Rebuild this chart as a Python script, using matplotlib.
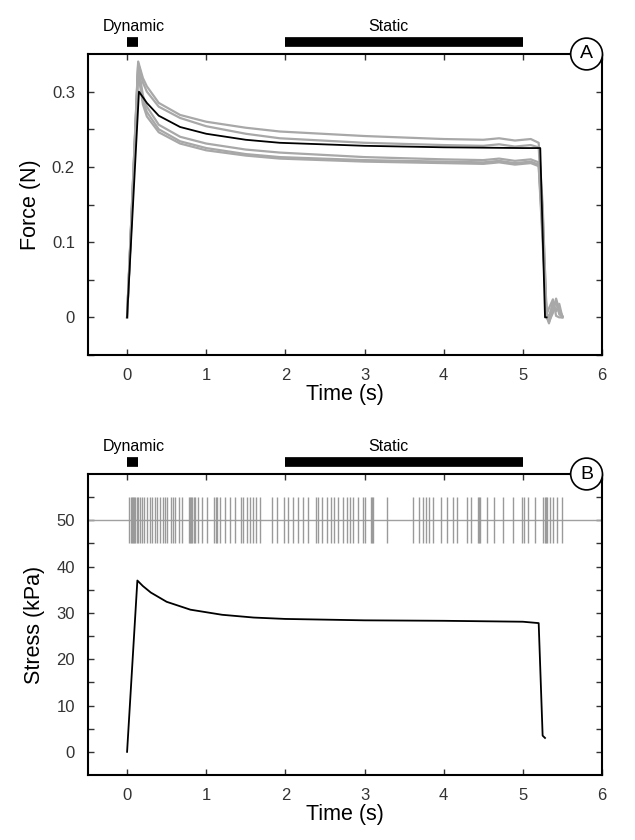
import numpy as np
import matplotlib
matplotlib.use('Agg')
import matplotlib.pyplot as plt
from matplotlib.ticker import FixedLocator

plt.rcParams['font.family'] = ['Liberation Sans', 'DejaVu Sans']

# --- force traces (panel A) ---
t_force = [0, 0.14, 0.2, 0.25, 0.4, 0.67, 1.0, 1.5, 1.93, 3.0, 4.0, 4.5, 4.7, 4.9, 5.1, 5.2, 5.25, 5.3, 5.33, 5.38, 5.42, 5.46, 5.5]
gray_traces = [
    [0, 0.340, 0.318, 0.307, 0.285, 0.269, 0.260, 0.252, 0.247, 0.241, 0.237, 0.236, 0.238, 0.235, 0.237, 0.232, 0.15, 0.002, -0.008, 0.012, 0.022, 0.004, 0.001],
    [0, 0.338, 0.312, 0.300, 0.280, 0.265, 0.254, 0.244, 0.238, 0.232, 0.229, 0.228, 0.230, 0.227, 0.229, 0.226, 0.14, 0.006, 0.0, 0.02, 0.008, 0.018, 0.0],
    [0, 0.335, 0.295, 0.280, 0.256, 0.240, 0.231, 0.223, 0.219, 0.213, 0.210, 0.209, 0.211, 0.208, 0.210, 0.206, 0.12, 0.0, -0.006, 0.006, 0.025, 0.01, 0.002],
    [0, 0.330, 0.288, 0.273, 0.250, 0.234, 0.225, 0.217, 0.213, 0.209, 0.207, 0.206, 0.208, 0.205, 0.207, 0.203, 0.11, 0.004, 0.012, 0.024, 0.002, 0.0, 0.0],
    [0, 0.325, 0.283, 0.267, 0.246, 0.231, 0.222, 0.215, 0.211, 0.207, 0.205, 0.204, 0.206, 0.203, 0.205, 0.201, 0.10, 0.002, 0.0, 0.016, 0.02, 0.006, 0.001],
]
t_mean = [0, 0.15, 0.25, 0.4, 0.67, 1.0, 1.5, 1.93, 3.0, 4.0, 5.0, 5.22, 5.28, 5.3]
force_mean = [0, 0.300, 0.285, 0.268, 0.253, 0.244, 0.236, 0.232, 0.228, 0.226, 0.225, 0.225, 0.0, 0.0]

# --- stress (panel B) ---
t_stress = [0, 0.13, 0.2, 0.3, 0.5, 0.8, 1.2, 1.6, 2.0, 3.0, 4.0, 5.0, 5.2, 5.25, 5.28]
stress = [0, 37.0, 35.8, 34.4, 32.4, 30.7, 29.6, 29.0, 28.7, 28.4, 28.3, 28.1, 27.8, 3.5, 3.0]

# spike times (s)
spikes = [0.03, 0.045, 0.06, 0.075, 0.09, 0.105, 0.12, 0.135, 0.16, 0.19, 0.22, 0.25, 0.29, 0.32, 0.35, 0.38,
          0.42, 0.45, 0.48, 0.51, 0.55, 0.58, 0.61, 0.65, 0.70, 0.78, 0.795, 0.81, 0.825, 0.84, 0.86, 0.89,
          0.95, 1.01, 1.10, 1.12, 1.14, 1.17, 1.24, 1.30, 1.36, 1.44, 1.46, 1.52, 1.55, 1.59, 1.63,
          1.68, 1.83, 1.89, 1.98, 2.03, 2.10, 2.16, 2.22, 2.29, 2.39, 2.41, 2.46, 2.52, 2.57, 2.62,
          2.67, 2.73, 2.78, 2.82, 2.86, 2.92, 2.98, 3.01, 3.08, 3.095, 3.11, 3.28, 3.61, 3.69, 3.74, 3.78,
          3.81, 3.87, 3.97, 4.04, 4.12, 4.17, 4.29, 4.34, 4.43, 4.445, 4.46, 4.55, 4.63, 4.75, 4.87, 4.99,
          5.02, 5.07, 5.15, 5.26, 5.275, 5.29, 5.30, 5.34, 5.38, 5.43, 5.49]

dyn_phase = (0.0, 0.14)
stat_phase = (2.0, 5.0)
xticks = [0, 1, 2, 3, 4, 5, 6]
force_ticks = [0, 0.1, 0.2, 0.3]
force_minor = [-0.05, 0.05, 0.15, 0.25]
stress_ticks = [0, 10, 20, 30, 40, 50]
stress_minor = [5, 15, 25, 35, 45, 55]

W, H = 635, 840
fig = plt.figure(figsize=(W / 100, H / 100), dpi=100)
ax1 = fig.add_axes([87.5 / W, 1 - 355 / H, 514.5 / W, 301 / H])
ax2 = fig.add_axes([87.5 / W, 1 - 775 / H, 514.5 / W, 301 / H])

gray = '#a8a8a8'
for tr in gray_traces:
    ax1.plot(t_force, tr, color=gray, lw=1.6)
ax1.plot(t_mean, force_mean, color='black', lw=1.3)

ax2.axhline(50, color='#a0a0a0', lw=1.0)
ax2.vlines(spikes, 45, 55, color='#9a9a9a', lw=1.0)
ax2.plot(t_stress, stress, color='black', lw=1.3)


def style(ax, ylim, major, minor, labels, ylabel, letter):
    ax.set_xlim(-0.5, 6)
    ax.set_ylim(*ylim)
    ax.set_xticks(xticks)
    ax.set_yticks(major)
    ax.set_yticklabels(labels)
    ax.yaxis.set_minor_locator(FixedLocator(minor))
    ax.tick_params(direction='in', length=4, width=1, top=True, right=True,
                   labelsize=12, colors='#333333', labelcolor='#333333', pad=9)
    ax.tick_params(which='minor', direction='in', length=4, width=1, right=True, colors='#333333')
    for s in ax.spines.values():
        s.set_linewidth(1.5)
    ax.set_xlabel('Time (s)', fontsize=15.5, labelpad=1)
    ax.set_ylabel(ylabel, fontsize=15.5, labelpad=8)
    tr = ax.get_xaxis_transform()
    ax.plot(dyn_phase, [1.04, 1.04], color='black', lw=7, solid_capstyle='butt',
            transform=tr, clip_on=False)
    ax.plot(stat_phase, [1.04, 1.04], color='black', lw=7, solid_capstyle='butt',
            transform=tr, clip_on=False)
    ax.text(0.09, 1.065, 'Dynamic', transform=tr, ha='center', va='bottom', fontsize=11.5)
    ax.text(3.3, 1.065, 'Static', transform=tr, ha='center', va='bottom', fontsize=11.5)
    ax.text(0.97, 1.0, letter, transform=ax.transAxes, ha='center', va='center',
            fontsize=14, zorder=10, clip_on=False,
            bbox=dict(boxstyle='circle,pad=0.38', fc='white', ec='black', lw=1.2))


style(ax1, (-0.05, 0.35), force_ticks, force_minor,
      ['0', '0.1', '0.2', '0.3'], 'Force (N)', 'A')
style(ax2, (-5, 60), stress_ticks, stress_minor,
      [str(v) for v in stress_ticks], 'Stress (kPa)', 'B')

fig.savefig('out.png', dpi=100)
